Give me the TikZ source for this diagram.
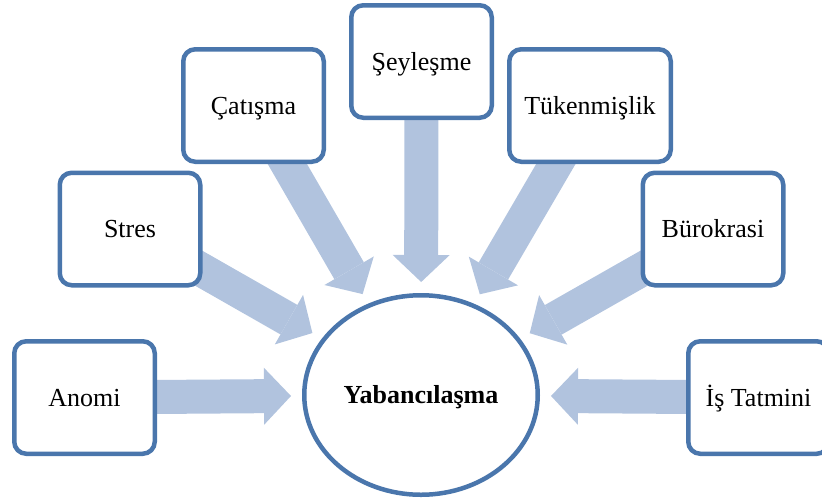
\documentclass[tikz,border=0pt]{standalone}
\usepackage{fontspec}
\setmainfont{Liberation Serif}
\usetikzlibrary{shapes.geometric, arrows.meta, backgrounds}
\definecolor{boxblue}{RGB}{74,118,172}
\definecolor{arrowblue}{RGB}{177,195,222}

\begin{document}
\begin{tikzpicture}[
      x=1pt, y=-1pt,
      box/.style={draw=boxblue, line width=4.5pt, rounded corners=12pt,
                  fill=white, minimum width=140.5pt, minimum height=112.5pt,
                  inner sep=0pt, align=center, text height=17pt,
                  text depth=0pt, font=\fontsize{26}{30}\selectfont},
      hub/.style={ellipse, draw=boxblue, line width=4.5pt, fill=white,
                  minimum width=233.5pt, minimum height=199.5pt,
                  inner sep=0pt, text height=17pt, text depth=0pt,
                  font=\fontsize{26}{30}\selectfont\bfseries},
      arrow/.style={draw=arrowblue, line width=34pt,
                    -{Triangle[length=27pt, width=57pt, line width=0pt]},
                    shorten >=11pt}
    ]
    \useasboundingbox (0,0) rectangle (822,499);
    \node[hub] (yab)     at (421,395)   {Yabancılaşma};
    \node[box] (anomi)   at (84.5,397.5) {Anomi};
    \node[box] (stres)   at (130,229)   {Stres};
    \node[box] (catisma) at (253.5,105.5) {Çatışma};
    \node[box] (seyles)  at (421.5,61.5) {Şeyleşme};
    \node[box, minimum width=161.5pt] (tuken) at (590,105.5) {Tükenmişlik};
    \node[box] (burok)   at (713,229)   {Bürokrasi};
    \node[box] (istat)   at (758.5,397.5) {İş Tatmini};
    \begin{scope}[on background layer]
      \foreach \src in {anomi, stres, catisma, seyles, tuken, burok, istat}
        \draw[arrow] (\src.center) -- (yab);
    \end{scope}
  \end{tikzpicture}
\end{document}
